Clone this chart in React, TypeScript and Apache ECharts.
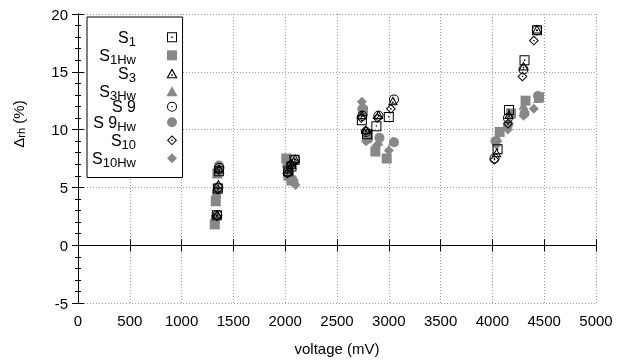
import React, { useEffect, useRef } from "react";
import * as echarts from "echarts";

const seriesNames = ["S1", "S1Hw", "S3", "S3Hw", "S 9", "S 9Hw", "S10", "S10Hw"];

const S1: number[][] = [
  [1340, 2.6], [1350, 4.9], [1360, 6.4],
  [2030, 6.4], [2060, 6.8], [2090, 7.4],
  [2740, 10.8], [2790, 9.6], [2880, 10.3], [3000, 11.1],
  [4050, 8.3], [4160, 11.7], [4310, 16.0], [4430, 18.6],
];
const S1Hw: number[][] = [
  [1320, 1.8], [1330, 3.8], [1345, 6.2],
  [2010, 7.5], [2030, 6.0], [2060, 5.6],
  [2750, 11.6], [2800, 9.5], [2870, 8.1], [2980, 7.5],
  [4070, 9.8], [4180, 11.4], [4320, 12.5], [4450, 12.8],
];
const S3: number[][] = [
  [1345, 2.7], [1355, 5.3], [1365, 6.6],
  [2035, 6.6], [2065, 7.0], [2095, 7.5],
  [2740, 11.3], [2780, 10.0], [2900, 11.3], [3040, 12.5],
  [4040, 8.0], [4160, 11.3], [4300, 15.5], [4430, 18.7],
];
const S3Hw: number[][] = [
  [1325, 2.2], [1335, 4.5], [1350, 6.5],
  [2015, 7.2], [2035, 6.3], [2070, 5.8],
  [2740, 12.1], [2790, 9.4], [2900, 9.0], [3040, 9.0],
  [4050, 9.3], [4160, 10.8], [4300, 12.1], [4440, 12.7],
];
const S9: number[][] = [
  [1345, 2.6], [1355, 5.0], [1365, 6.7],
  [2025, 6.3], [2055, 6.9], [2095, 7.4],
  [2745, 11.2], [2780, 9.8], [2900, 11.2], [3050, 12.6],
  [4020, 7.5], [4150, 11.0], [4300, 15.2], [4430, 18.6],
];
const S9Hw: number[][] = [
  [1330, 2.4], [1340, 4.6], [1360, 6.9],
  [2020, 6.8], [2040, 6.0], [2080, 5.5],
  [2750, 11.8], [2800, 9.2], [2910, 9.3], [3050, 8.9],
  [4030, 9.0], [4150, 10.4], [4310, 11.4], [4440, 12.9],
];
const S10: number[][] = [
  [1340, 2.5], [1350, 4.8], [1360, 6.5],
  [2020, 6.2], [2060, 7.0], [2085, 7.2],
  [2735, 11.0], [2775, 9.9], [2890, 11.0], [3020, 11.8],
  [4020, 7.4], [4150, 10.5], [4290, 14.6], [4400, 17.7],
];
const S10Hw: number[][] = [
  [1325, 2.0], [1335, 4.3], [1350, 6.3],
  [2030, 6.0], [2060, 5.6], [2100, 5.2],
  [2740, 12.4], [2780, 9.0], [2880, 8.6], [3000, 8.2],
  [4040, 8.7], [4150, 10.0], [4300, 11.2], [4400, 11.8],
];

const seriesData = [S1, S1Hw, S3, S3Hw, S9, S9Hw, S10, S10Hw];

const legendLabels: Record<string, string> = {
  "S1": "{m|S}{s|1}",
  "S1Hw": "{m|S}{s|1Hw}",
  "S3": "{m|S}{s|3}",
  "S3Hw": "{m|S}{s|3Hw}",
  "S 9": "{m|S 9}",
  "S 9Hw": "{m|S 9}{s|Hw}",
  "S10": "{m|S}{s|10}",
  "S10Hw": "{m|S}{s|10Hw}",
};

const BLACK = "#000000";
const GREY = "#888888";
const FONT = "Liberation Sans, Arial, sans-serif";

const sqOpen = "path://M0 0H10V10H0Z M1 1V9H9V1Z M4.3 4.3H5.7V5.7H4.3Z";
const sqFill = "path://M0 0H10V10H0Z";
const triOpen = "path://M5 0L10 9H0Z M5 2.1L1.7 8H8.3Z M4.3 5.3H5.7V6.7H4.3Z";
const triFill = "path://M5 0L10 9H0Z";
const cirOpen =
  "path://M5 0A5 5 0 1 1 5 10A5 5 0 1 1 5 0Z M5 1A4 4 0 1 0 5 9A4 4 0 1 0 5 1Z M5 4.3A0.7 0.7 0 1 1 5 5.7A0.7 0.7 0 1 1 5 4.3Z";
const cirFill = "path://M5 0A5 5 0 1 1 5 10A5 5 0 1 1 5 0Z";
const diaOpen = "path://M5 0L10 5L5 10L0 5Z M5 1.4L1.4 5L5 8.6L8.6 5Z M4.3 4.3H5.7V5.7H4.3Z";
const diaFill = "path://M5 0L10 5L5 10L0 5Z";

const symbols = [sqOpen, sqFill, triOpen, triFill, cirOpen, cirFill, diaOpen, diaFill];
const colors = [BLACK, GREY, BLACK, GREY, BLACK, GREY, BLACK, GREY];
const sizes = [10, 10, 10, 10, 10, 10, 10, 10];

export default function App() {
  const ref = useRef<HTMLDivElement>(null);
  useEffect(() => {
    if (!ref.current) return;
    const chart = echarts.init(ref.current, undefined, { renderer: "svg" });
    const axisLine = { show: true, lineStyle: { color: "#000", width: 1 } };
    const series: any[] = seriesNames.map((name, i) => ({
      name,
      type: "scatter",
      data: seriesData[i],
      symbol: symbols[i],
      symbolSize: sizes[i],
      symbolKeepAspect: true,
      itemStyle: { color: colors[i], opacity: 1 },
      z: 10 - (i % 2 === 0 ? 0 : 1),
    }));
    series[0].markLine = {
      silent: true,
      symbol: "none",
      label: { show: false },
      lineStyle: { color: "#000", width: 1, type: "solid" },
      data: [{ yAxis: 0 }],
    };
    const fmt = (v: number) => String(v);
    chart.setOption({
      animation: false,
      textStyle: { fontFamily: FONT },
      grid: { left: 78, right: 21, top: 14, bottom: 60 },
      xAxis: [
        {
          type: "value",
          min: 0,
          max: 5000,
          interval: 500,
          position: "bottom",
          axisLine,
          axisTick: { inside: true, length: 6, lineStyle: { color: "#000" } },
          axisLabel: { color: "#000", fontSize: 15, margin: 10, fontFamily: FONT, formatter: fmt },
          splitLine: { show: true, lineStyle: { color: "#999", type: [1, 2], width: 1 } },
          name: "voltage (mV)",
          nameLocation: "middle",
          nameGap: 38,
          nameTextStyle: { color: "#000", fontSize: 15, fontFamily: FONT },
        },
        {
          type: "value",
          min: 0,
          max: 5000,
          interval: 500,
          position: "top",
          axisLine,
          axisTick: { inside: true, length: 6, lineStyle: { color: "#000" } },
          axisLabel: { show: false },
          splitLine: { show: false },
        },
      ],
      yAxis: [
        {
          type: "value",
          min: -5,
          max: 20,
          interval: 5,
          position: "left",
          axisLine,
          axisTick: { inside: true, length: 6, lineStyle: { color: "#000" } },
          minorTick: { show: true, splitNumber: 5, length: 3, lineStyle: { color: "#000" } },
          axisLabel: { color: "#000", fontSize: 15, margin: 10, fontFamily: FONT, formatter: fmt },
          splitLine: { show: true, lineStyle: { color: "#999", type: [1, 2], width: 1 } },
        },
        {
          type: "value",
          min: -5,
          max: 20,
          interval: 5,
          position: "right",
          axisLine,
          axisTick: { inside: true, length: 6, lineStyle: { color: "#000" } },
          minorTick: { show: true, splitNumber: 5, length: 3, lineStyle: { color: "#000" } },
          axisLabel: { show: false },
          splitLine: { show: false },
        },
      ],
      legend: {
        orient: "vertical",
        left: 87,
        top: 17,
        align: "right",
        itemWidth: 62,
        itemHeight: 10,
        itemGap: -3,
        padding: [9.8, 5, 8.7, 3],
        borderColor: "#000",
        borderWidth: 1,
        backgroundColor: "#fff",
        selectedMode: false,
        symbolKeepAspect: true,
        data: seriesNames.map((n, i) => ({ name: n, icon: symbols[i] })),
        formatter: (name: string) => legendLabels[name] || name,
        textStyle: {
          width: 46,
          lineHeight: 15,
          color: "#000",
          fontFamily: FONT,
          rich: {
            m: { fontSize: 16, lineHeight: 15, fontFamily: FONT, color: "#000" },
            s: { fontSize: 13, lineHeight: 15, padding: [8, 0, 0, 0], fontFamily: FONT, color: "#000" },
          },
        },
      },
      graphic: [
        {
          type: "text",
          x: 18,
          y: 124,
          rotation: Math.PI / 2,
          style: {
            text: "{m|Δ}{s|rh}{m| (%)}",
            align: "center",
            verticalAlign: "middle",
            rich: {
              m: { fontSize: 15, lineHeight: 15, fontFamily: FONT, fill: "#000" },
              s: { fontSize: 11, lineHeight: 15, padding: [6, 0, 0, 0], fontFamily: FONT, fill: "#000" },
            },
          },
        },
      ],
      series,
    });
    return () => chart.dispose();
  }, []);
  return (
    <div
      ref={ref}
      style={{ position: "fixed", left: 0, top: 0, width: 617, height: 363 }}
    />
  );
}
